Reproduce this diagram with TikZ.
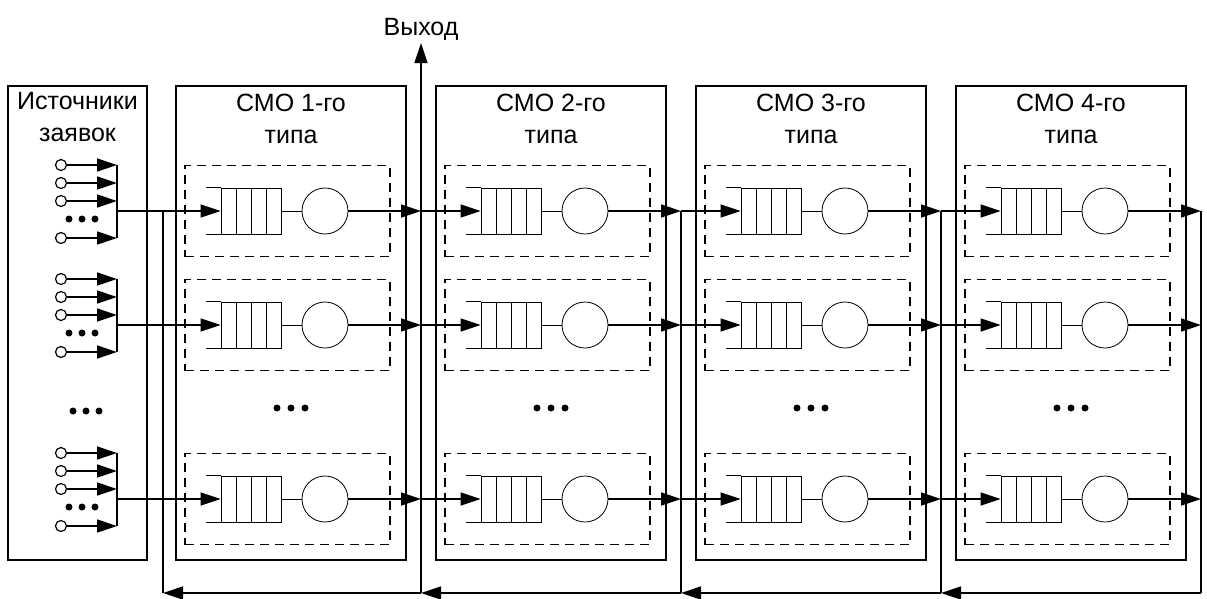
\documentclass[tikz,border=0pt]{standalone}
\usepackage{fontspec}
\setmainfont{Liberation Sans}
\usetikzlibrary{arrows.meta, positioning}

\begin{document}
\begin{tikzpicture}[x=1pt, y=-1pt, >={Triangle[length=20pt, width=13pt]},
  font=\fontsize{25}{32}\selectfont, line width=1.5pt,
  frame/.style={draw, minimum width=230pt, minimum height=474pt, inner sep=0pt},
  title/.style={align=center, anchor=north, inner sep=0pt},
  grp/.style={draw, dash pattern=on 9pt off 6pt, minimum width=205pt, minimum height=91pt, inner sep=0pt},
  queue/.style={draw, line width=0.8pt, minimum width=60pt, minimum height=46pt, inner sep=0pt,
    path picture={\foreach \d in {1,2,3}
      \draw[line width=0.8pt] ([xshift=\d*15pt]path picture bounding box.north west) -- ([xshift=\d*15pt]path picture bounding box.south west);}},
  srv/.style={draw, circle, line width=0.8pt, minimum size=46pt, inner sep=0pt},
  src/.style={draw, circle, line width=1.2pt, fill=white, minimum size=11pt, inner sep=0pt},
  dot/.style={fill, circle, minimum size=7pt, inner sep=0pt}]
\useasboundingbox (0,0) rectangle (1207,598);

\node[draw, minimum width=139pt, minimum height=474pt, inner sep=0pt] (src) at (77.5,323) {};
\node[title] (tsrc) at ([yshift=-6pt]src.north) {Источники\\заявок};
\foreach \r/\y in {1/211, 2/325, 3/499} {
  \foreach \i/\dy in {1/-46, 2/-28, 3/-10, 4/27} {
    \node[src] (s\r\i) at (61,\y+\dy) {};
    \coordinate (b\r\i) at (117,\y+\dy);
    \draw[->] (s\r\i) -- (b\r\i);
  }
  \draw (b\r1) -- (b\r4);
  \foreach \i/\dx in {1/-13, 2/0, 3/13}
    \node[dot] (ds\r\i) at (82+\dx,\y+8) {};
  \coordinate (o0\r) at (117,\y);
}
\foreach \i/\dx in {1/-13, 2/0, 3/13}
  \node[dot] (dsm\i) at (86+\dx,411) {};

\foreach \k in {1,...,4} {
  \pgfmathsetmacro\L{176+260*(\k-1)}
  \pgfmathtruncatemacro\km{\k-1}
  \node[frame] (smo\k) at (\L+115,323) {};
  \node[title] (t\k) at ([yshift=-8pt]smo\k.north) {СМО \k-го\\типа};
  \foreach \i/\dx in {1/-14, 2/0, 3/14}
    \node[dot] (d\k\i) at (\L+115+\dx,408) {};
  \foreach \r/\y in {1/211, 2/325, 3/499} {
    \node[grp] (g\k\r) at (\L+111.5,\y) {};
    \node[queue] (q\k\r) at (\L+75,\y) {};
    \draw[line width=0.8pt] (q\k\r.north west) -- ++(-15,0) (q\k\r.south west) -- ++(-15,0);
    \node[srv] (m\k\r) at (\L+149,\y) {};
    \draw[line width=0.8pt] (q\k\r) -- (m\k\r);
    \coordinate (o\k\r) at (\L+245,\y);
    \draw[->] (m\k\r) -- (o\k\r);
    \draw[->] (o\km\r) -- (q\k\r.west);
  }
  \coordinate (v\k-b) at (\L+245,593);
}

\coordinate (v0-t) at (163,211);
\coordinate (v0-b) at (163,593);
\node[anchor=south, inner sep=2pt] (out) at (421,43) {Выход};
\draw (v0-t) -- (v0-b);
\draw[->] (v1-b) -- (out.south);
\foreach \k in {2,3,4}
  \draw (o\k1) -- (v\k-b);
\foreach \k/\j in {4/3, 3/2, 2/1, 1/0}
  \draw[->] (v\k-b) -- (v\j-b);
\end{tikzpicture}
\end{document}
